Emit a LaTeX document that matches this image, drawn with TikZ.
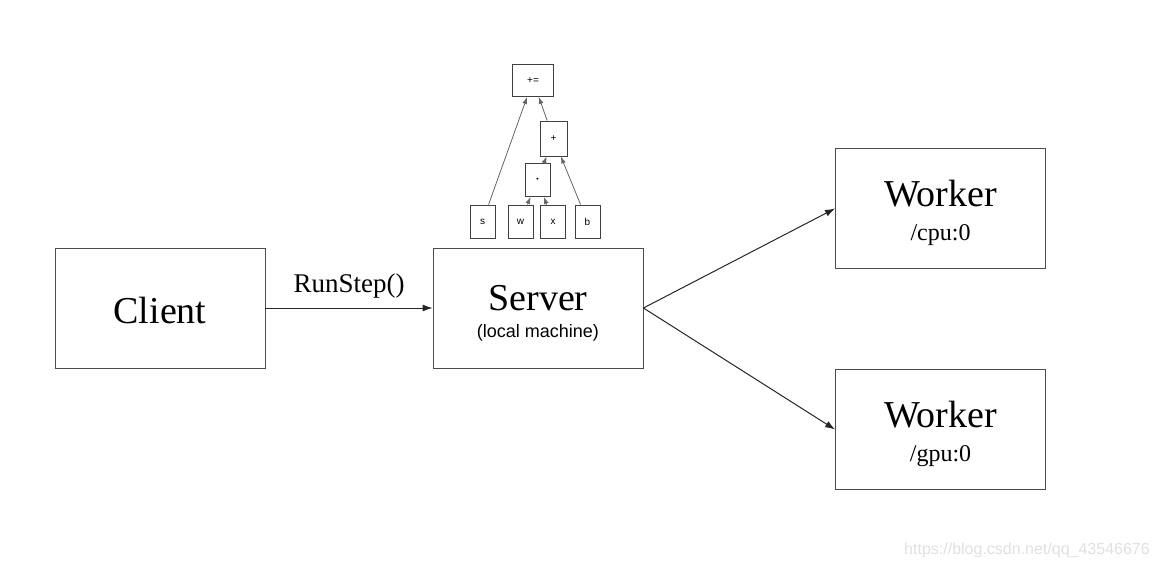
\documentclass[tikz,border=0pt]{standalone}
\usepackage{fontspec}
\setmainfont{Liberation Serif}
\setsansfont{Liberation Sans}
\usetikzlibrary{arrows.meta}
\begin{document}
\begin{tikzpicture}
  [x=1pt,y=-1pt,
   box/.style={draw=black!70,line width=0.9pt,minimum width=210pt,minimum height=120pt,inner sep=0pt},
   big/.style={font=\fontsize{38}{42}\selectfont},
   sub/.style={font=\fontsize{24}{26}\selectfont},
   op/.style={draw=black!75,line width=0.9pt,minimum width=25pt,minimum height=33pt,inner sep=0pt,font=\sffamily\fontsize{10}{11}\selectfont},
   edge/.style={-{Latex[length=10pt,width=7pt]},draw=black!85,line width=1pt},
   opedge/.style={-{Latex[length=7pt,width=5pt]},draw=black!60,line width=0.8pt}]
  \useasboundingbox (0,0) rectangle (1159,568);

  \node[box] (client) at (160,308) {};
  \node[box] (server) at (538,308) {};
  \node[box] (w1) at (940.5,208.5) {};
  \node[box] (w2) at (940.5,429.5) {};

  \node[big] (clientname) at (160,310) {Client};
  \node[big] (servername) at (538,298) {Server};
  \node[font=\sffamily\fontsize{18}{20}\selectfont] (serversub) at (538,333) {(local machine)};
  \node[big] (w1name) at (940.5,193.5) {Worker};
  \node[sub] (w1dev) at (940.5,235) {/cpu:0};
  \node[big] (w2name) at (940.5,414.5) {Worker};
  \node[sub] (w2dev) at (940.5,456) {/gpu:0};

  % small graph over the server
  \node[op,minimum width=41pt,minimum height=32pt] (acc) at (533,80.5) {+=};
  \node[op,minimum width=27pt,minimum height=35pt] (add) at (553.5,138.5) {+};
  \node[op] (mul) at (537.5,180) {\fontsize{7}{7}\selectfont\textbullet};
  \node[op] (s) at (482.5,221.5) {s};
  \node[op] (w) at (520.5,221.5) {w};
  \node[op] (x) at (553,221.5) {x};
  \node[op] (b) at (587.5,221.5) {b};

  \draw [opedge](s) -- (acc);
  \draw [opedge](add) -- (acc);
  \draw [opedge](mul) -- (add);
  \draw [opedge](b) -- (add);
  \draw [opedge](w) -- (mul);
  \draw [opedge](x) -- (mul);

  \draw [edge](client) -- node[above=6pt,font=\fontsize{27}{30}\selectfont]{RunStep()} (server);
  \draw [edge](server.east) -- (w1.west);
  \draw [edge](server.east) -- (w2.west);

  \node[text=black!12,font=\sffamily\fontsize{16}{18}\selectfont] (mark) at (1027,550) {https://blog.csdn.net/qq\_43546676};
\end{tikzpicture}
\end{document}
